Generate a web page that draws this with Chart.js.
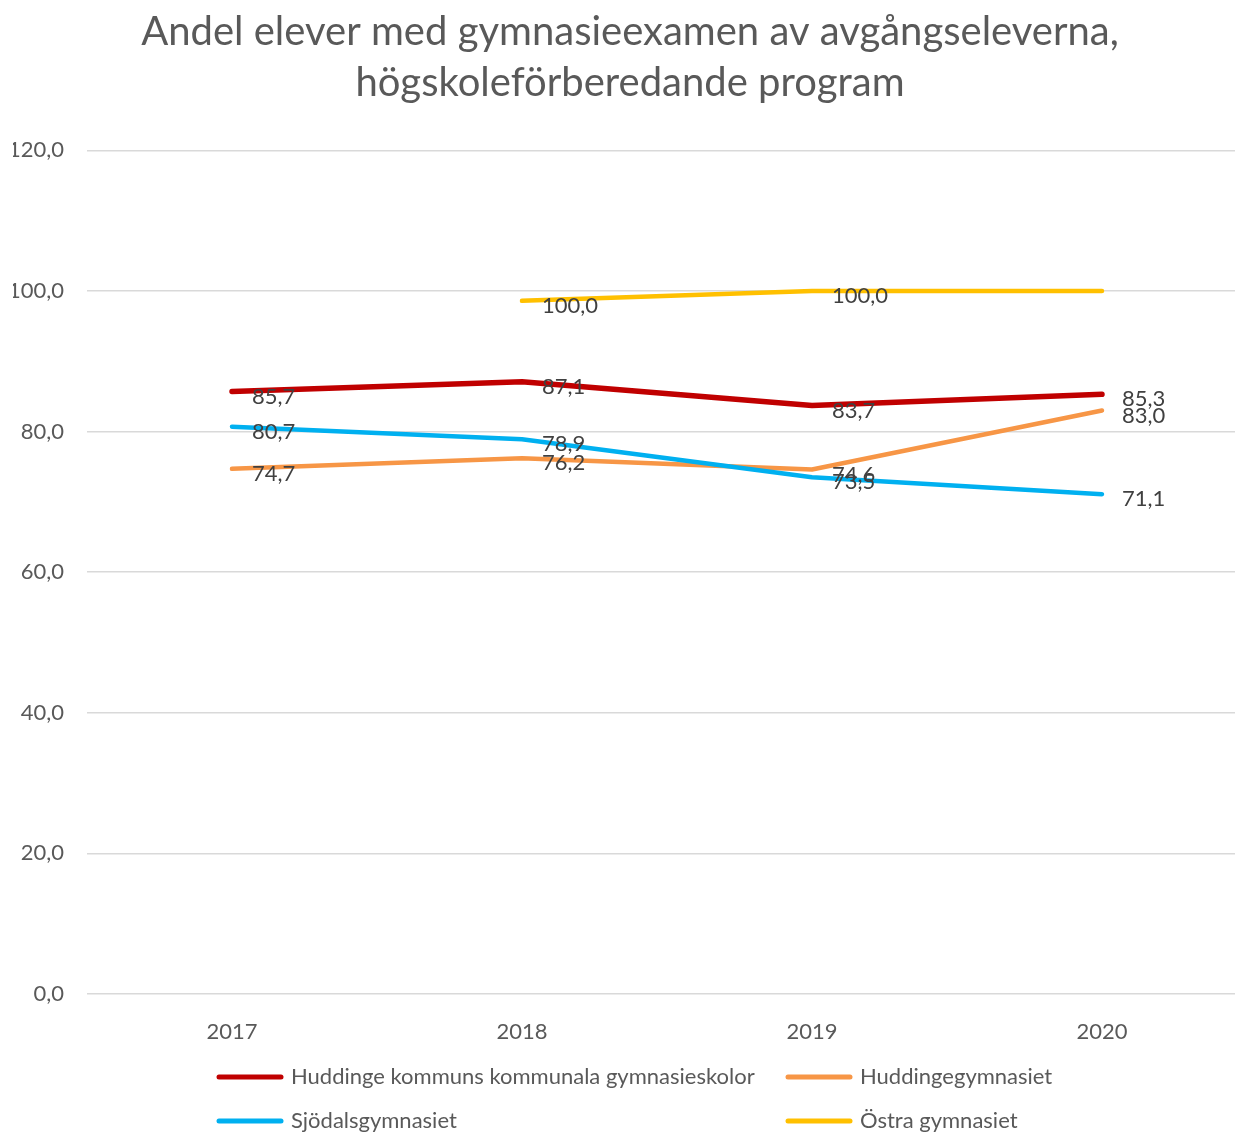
<!DOCTYPE html>
<html>
<head>
<meta charset="utf-8">
<script src="https://cdn.jsdelivr.net/npm/chart.js@4.4.0/dist/chart.umd.min.js"></script>
<style>
  html, body { margin: 0; padding: 0; background: #fff; overflow: hidden; }
  #wrap { width: 1260px; height: 1160px; position: relative; }
</style>
</head>
<body>
<div id="wrap"><canvas id="gymChart"></canvas></div>
<script>
// data
var years = ['2017', '2018', '2019', '2020'];
var seriesNames = ['Huddinge kommuns kommunala gymnasieskolor', 'Huddingegymnasiet', 'Sjödalsgymnasiet', 'Östra gymnasiet'];
var huddingeKommun = [85.7, 87.1, 83.7, 85.3];
var huddingeGymn = [74.7, 76.2, 74.6, 83.0];
var sjodals = [80.7, 78.9, 73.5, 71.1];
var ostra = [null, 98.6, 100.0, 100.0];
var ostraLabels = [null, '100,0', '100,0', null];
var yTicks = [0, 20, 40, 60, 80, 100, 120];

var textColor = '#595959';
var fontFam = 'Lato, "Open Sans", sans-serif';
var txtSize = 22;

function fmt(v) {
    return v == null ? null : v.toFixed(1).replace('.', ',');
}

// data labels + legend drawn by hand (Excel style)
var excelBits = {
    id: 'excelBits',
    afterDatasetsDraw: function(chart) {
        var ctx = chart.ctx;
        ctx.save();
        ctx.font = txtSize + 'px ' + fontFam;
        ctx.fillStyle = '#404040';
        ctx.textAlign = 'left';
        ctx.textBaseline = 'middle';
        chart.data.datasets.forEach(function(ds, i) {
            var meta = chart.getDatasetMeta(i);
            meta.data.forEach(function(pt, j) {
                var txt = ds.labelTexts ? ds.labelTexts[j] : fmt(ds.data[j]);
                if (txt == null || ds.data[j] == null) return;
                ctx.fillText(txt, pt.x + 20, pt.y + 5);
            });
        });
        ctx.restore();
    },
    afterDraw: function(chart) {
        var ctx = chart.ctx;
        var cols = [217, 786];
        var rows = [1077, 1121];
        ctx.save();
        ctx.font = txtSize + 'px ' + fontFam;
        ctx.fillStyle = textColor;
        ctx.textBaseline = 'middle';
        ctx.lineCap = 'round';
        chart.data.datasets.forEach(function(ds, i) {
            var x = cols[i % 2], y = rows[Math.floor(i / 2)];
            ctx.strokeStyle = ds.borderColor;
            ctx.lineWidth = 5;
            ctx.beginPath();
            ctx.moveTo(x + 2, y);
            ctx.lineTo(x + 64, y);
            ctx.stroke();
            ctx.fillText(ds.label, x + 74, y);
        });
        ctx.restore();
    }
};

var ctx = document.getElementById('gymChart').getContext('2d');
var gymChart = new Chart(ctx, {
    type: 'line',
    data: {
        labels: years,
        datasets: [
            { label: seriesNames[0], data: huddingeKommun, borderColor: '#C00000', borderWidth: 5.5, order: 3 },
            { label: seriesNames[1], data: huddingeGymn, borderColor: '#F79646', borderWidth: 4.5, order: 2 },
            { label: seriesNames[2], data: sjodals, borderColor: '#00B0F0', borderWidth: 4.5, order: 1 },
            { label: seriesNames[3], data: ostra, borderColor: '#FFC000', borderWidth: 4.5, order: 0, labelTexts: ostraLabels }
        ]
    },
    options: {
        responsive: true,
        maintainAspectRatio: false,
        animation: false,
        elements: {
            point: { radius: 0, hoverRadius: 0 },
            line: { tension: 0, borderCapStyle: 'round', borderJoinStyle: 'round', fill: false }
        },
        layout: { padding: { left: 13, right: 13, top: 0, bottom: 106 } },
        scales: {
            x: {
                offset: true,
                grid: { display: false, drawTicks: false },
                border: { display: false },
                ticks: { color: textColor, font: { family: fontFam, size: txtSize }, padding: 25 },
                afterFit: function(scale) { scale.height = 60; }
            },
            y: {
                min: 0,
                max: 120,
                afterBuildTicks: function(scale) {
                    scale.ticks = yTicks.map(function(v) { return { value: v }; });
                },
                grid: { color: '#D9D9D9', lineWidth: 1.5, drawTicks: false },
                border: { display: false },
                ticks: {
                    color: textColor,
                    font: { family: fontFam, size: txtSize },
                    padding: 23,
                    callback: function(v) { return fmt(v); }
                },
                afterFit: function(scale) { scale.width = 74; }
            }
        },
        plugins: {
            legend: { display: false },
            tooltip: { enabled: false },
            title: {
                display: true,
                text: ['Andel elever med gymnasieexamen av avgångseleverna,', 'högskoleförberedande program'],
                color: textColor,
                font: { family: fontFam, size: 40, weight: 'normal', lineHeight: 1.28 },
                padding: { top: 6, bottom: 42 }
            }
        }
    },
    plugins: [excelBits]
});
</script>
</body>
</html>
